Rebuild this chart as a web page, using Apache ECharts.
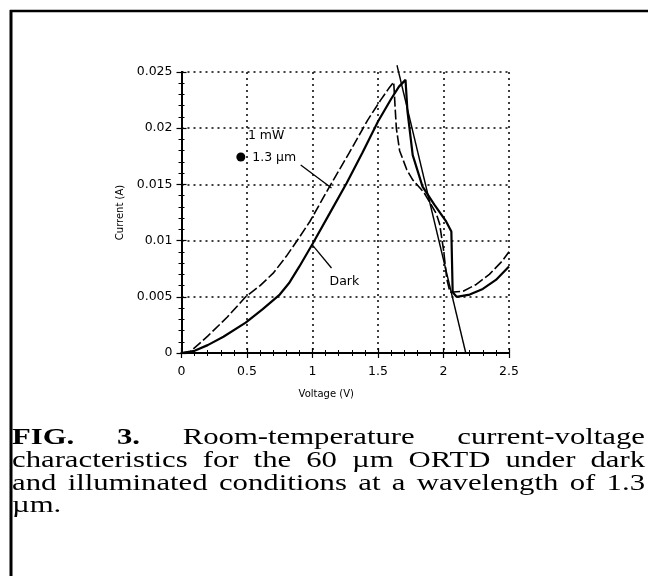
<!DOCTYPE html>
<html><head><meta charset="utf-8">
<script src="https://cdn.jsdelivr.net/npm/echarts@6/dist/echarts.min.js"></script>
<style>html,body{margin:0;padding:0;background:#fff}#c{width:648px;height:576px}</style>
</head><body><div id="c"></div>
<script>
// ---- data ----
const xTickLabels = ['0', '0.5', '1', '1.5', '2', '2.5'];
const yTickLabels = ['0', '0.005', '0.01', '0.015', '0.02', '0.025'];

const darkV = [0, 0.1, 0.2, 0.32, 0.49, 0.62, 0.75, 0.82, 0.90, 1.0, 1.13, 1.26, 1.38, 1.50, 1.60, 1.66, 1.71, 1.725, 1.765, 1.84, 1.93, 2.02, 2.06, 2.07, 2.10, 2.2, 2.3, 2.4, 2.5];
const darkI = [0, 0.0002, 0.0007, 0.00145, 0.0027, 0.0039, 0.0052, 0.0062, 0.0077, 0.0097, 0.0124, 0.0151, 0.0178, 0.0206, 0.0226, 0.0237, 0.0243, 0.0215, 0.0176, 0.0148, 0.0132, 0.0117, 0.0108, 0.0054, 0.0050, 0.0052, 0.0057, 0.0065, 0.0077];

const illumV = [0, 0.065, 0.2, 0.35, 0.49, 0.6, 0.70, 0.8, 0.9, 0.98, 1.13, 1.28, 1.42, 1.52, 1.58, 1.62, 1.63, 1.64, 1.665, 1.72, 1.765, 1.85, 1.945, 1.97, 2.0, 2.025, 2.05, 2.15, 2.25, 2.35, 2.45, 2.5];
const illumI = [0, 0.0001, 0.0015, 0.0032, 0.005, 0.006, 0.0071, 0.0086, 0.0103, 0.0117, 0.0148, 0.0178, 0.0207, 0.0225, 0.0235, 0.0241, 0.022, 0.0200, 0.018, 0.0163, 0.0154, 0.0143, 0.0124, 0.0115, 0.0092, 0.0066, 0.0054, 0.0055, 0.0061, 0.0070, 0.0082, 0.009];

const loadV = [1.645, 2.17];
const loadI = [0.0256, 0];

const dotPoint = [0.453, 0.01744];
const annText = ['1 mW', '1.3 \u00b5m', 'Dark'];
const annV = [0.507, 0.540, 1.13];
const annI = [0.0193, 0.01735, 0.0063];
const leaderV = [[0.91, 1.145], [1.0, 1.145]];
const leaderI = [[0.01673, 0.01468], [0.0096, 0.00756]];

const captionLines = [
  [['FIG.', true], ['3.', true], ['Room-temperature', false], ['current-voltage', false]],
  [['characteristics', false], ['for', false], ['the', false], ['60', false], ['\u00b5m', false], ['ORTD', false], ['under', false], ['dark', false]],
  [['and', false], ['illuminated', false], ['conditions', false], ['at', false], ['a', false], ['wavelength', false], ['of', false], ['1.3', false]],
  [['\u00b5m.', false]]
];

// ---- chart ----
const chart = echarts.init(document.getElementById('c'), null, {renderer: 'canvas'});
const zip = (a, b) => a.map((v, i) => [v, b[i]]);
const tickFont = 'DejaVu Sans';

const axisCommon = {
  axisLine: {show: true, lineStyle: {color: '#000', width: 2}},
  axisTick: {show: true, inside: true, length: 5, lineStyle: {color: '#000', width: 1.2}},
  minorTick: {show: true, splitNumber: 5, length: 3, lineStyle: {color: '#000', width: 1}},
};

const option = {
  animation: false,
  backgroundColor: '#fff',
  grid: {left: 181.5, right: 139, top: 72, bottom: 223, containLabel: false},
  xAxis: [
    Object.assign({}, axisCommon, {
      type: 'value', min: 0, max: 2.5, interval: 0.5, position: 'bottom',
      name: 'Voltage (V)', nameLocation: 'middle', nameGap: 36,
      nameTextStyle: {fontFamily: tickFont, fontSize: 10, color: '#000', padding: [0, 38, 0, 0]},
      axisLabel: {color: '#000', fontFamily: tickFont, fontSize: 12.5, margin: 12,
        formatter: (v) => xTickLabels[Math.round(v / 0.5)]},
      splitLine: {show: true, lineStyle: {color: '#000', width: 1.5, type: [2, 4]}}
    }),
    Object.assign({}, axisCommon, {
      type: 'value', min: 0, max: 2.5, interval: 0.5, position: 'top',
      axisLabel: {show: false}, splitLine: {show: false}
    })
  ],
  yAxis: [
    Object.assign({}, axisCommon, {
      type: 'value', min: 0, max: 0.025, interval: 0.005, position: 'left',
      name: 'Current (A)', nameLocation: 'middle', nameGap: 54,
      nameTextStyle: {fontFamily: tickFont, fontSize: 10, color: '#000'},
      axisLabel: {color: '#000', fontFamily: tickFont, fontSize: 12.5, margin: 9,
        formatter: (v) => yTickLabels[Math.round(v / 0.005)]},
      splitLine: {show: true, lineStyle: {color: '#000', width: 1.5, type: [2, 4]}}
    }),
    Object.assign({}, axisCommon, {
      type: 'value', min: 0, max: 0.025, interval: 0.005, position: 'right',
      axisLabel: {show: false}, splitLine: {show: false}
    })
  ],
  series: [
    {type: 'line', name: 'Illuminated', data: zip(illumV, illumI), showSymbol: false, smooth: false,
      lineStyle: {color: '#000', width: 1.6, type: [10, 3]}, z: 3},
    {type: 'line', name: 'Dark', data: zip(darkV, darkI), showSymbol: false,
      lineStyle: {color: '#000', width: 2.2}, z: 4},
    {type: 'line', name: 'Load', data: zip(loadV, loadI), showSymbol: false, clip: false,
      lineStyle: {color: '#000', width: 1.4}, z: 4},
    {type: 'line', name: 'leader1', data: zip(leaderV[0], leaderI[0]), showSymbol: false,
      lineStyle: {color: '#000', width: 1.3}},
    {type: 'line', name: 'leader2', data: zip(leaderV[1], leaderI[1]), showSymbol: false,
      lineStyle: {color: '#000', width: 1.3}},
    {type: 'scatter', name: 'dot', data: [dotPoint], symbolSize: 9,
      itemStyle: {color: '#000', opacity: 1}, z: 5},
    {type: 'scatter', name: 'labels', symbolSize: 0, z: 6,
      itemStyle: {opacity: 1},
      data: annText.map((t, i) => ({value: [annV[i], annI[i]], name: t})),
      label: {show: true, position: [0, 0], align: 'left', verticalAlign: 'middle',
        formatter: (p) => p.name, color: '#000', opacity: 1, fontFamily: tickFont, fontSize: 12.5}}
  ]
};
chart.setOption(option);

// ---- caption & frame ----
const capSize = 24, capScale = 1.28, capLeft = 12, capRight = 645;
const capY = [438, 461, 484, 506];
const ctx = document.createElement('canvas').getContext('2d');
const fontStr = (b) => (b ? 'bold ' : '') + capSize + 'px "Liberation Serif"';
const graphics = [
  {type: 'line', shape: {x1: 10, y1: 11, x2: 648, y2: 11}, style: {stroke: '#000', lineWidth: 2.5}},
  {type: 'line', shape: {x1: 11, y1: 10, x2: 11, y2: 576}, style: {stroke: '#000', lineWidth: 3}}
];
captionLines.forEach((words, li) => {
  const widths = words.map(([w, b]) => { ctx.font = fontStr(b); return ctx.measureText(w).width * capScale; });
  const total = widths.reduce((a, b) => a + b, 0);
  const gap = words.length > 1 && li < captionLines.length - 1 ? (capRight - capLeft - total) / (words.length - 1) : 8;
  let x = capLeft;
  words.forEach(([w, b], i) => {
    graphics.push({type: 'text', x: x, y: capY[li], scaleX: capScale, scaleY: 1,
      style: {text: w, font: fontStr(b), fill: '#000', textAlign: 'left', textVerticalAlign: 'middle'}});
    x += widths[i] + gap;
  });
});
chart.setOption({graphic: graphics});
</script>
</body></html>
